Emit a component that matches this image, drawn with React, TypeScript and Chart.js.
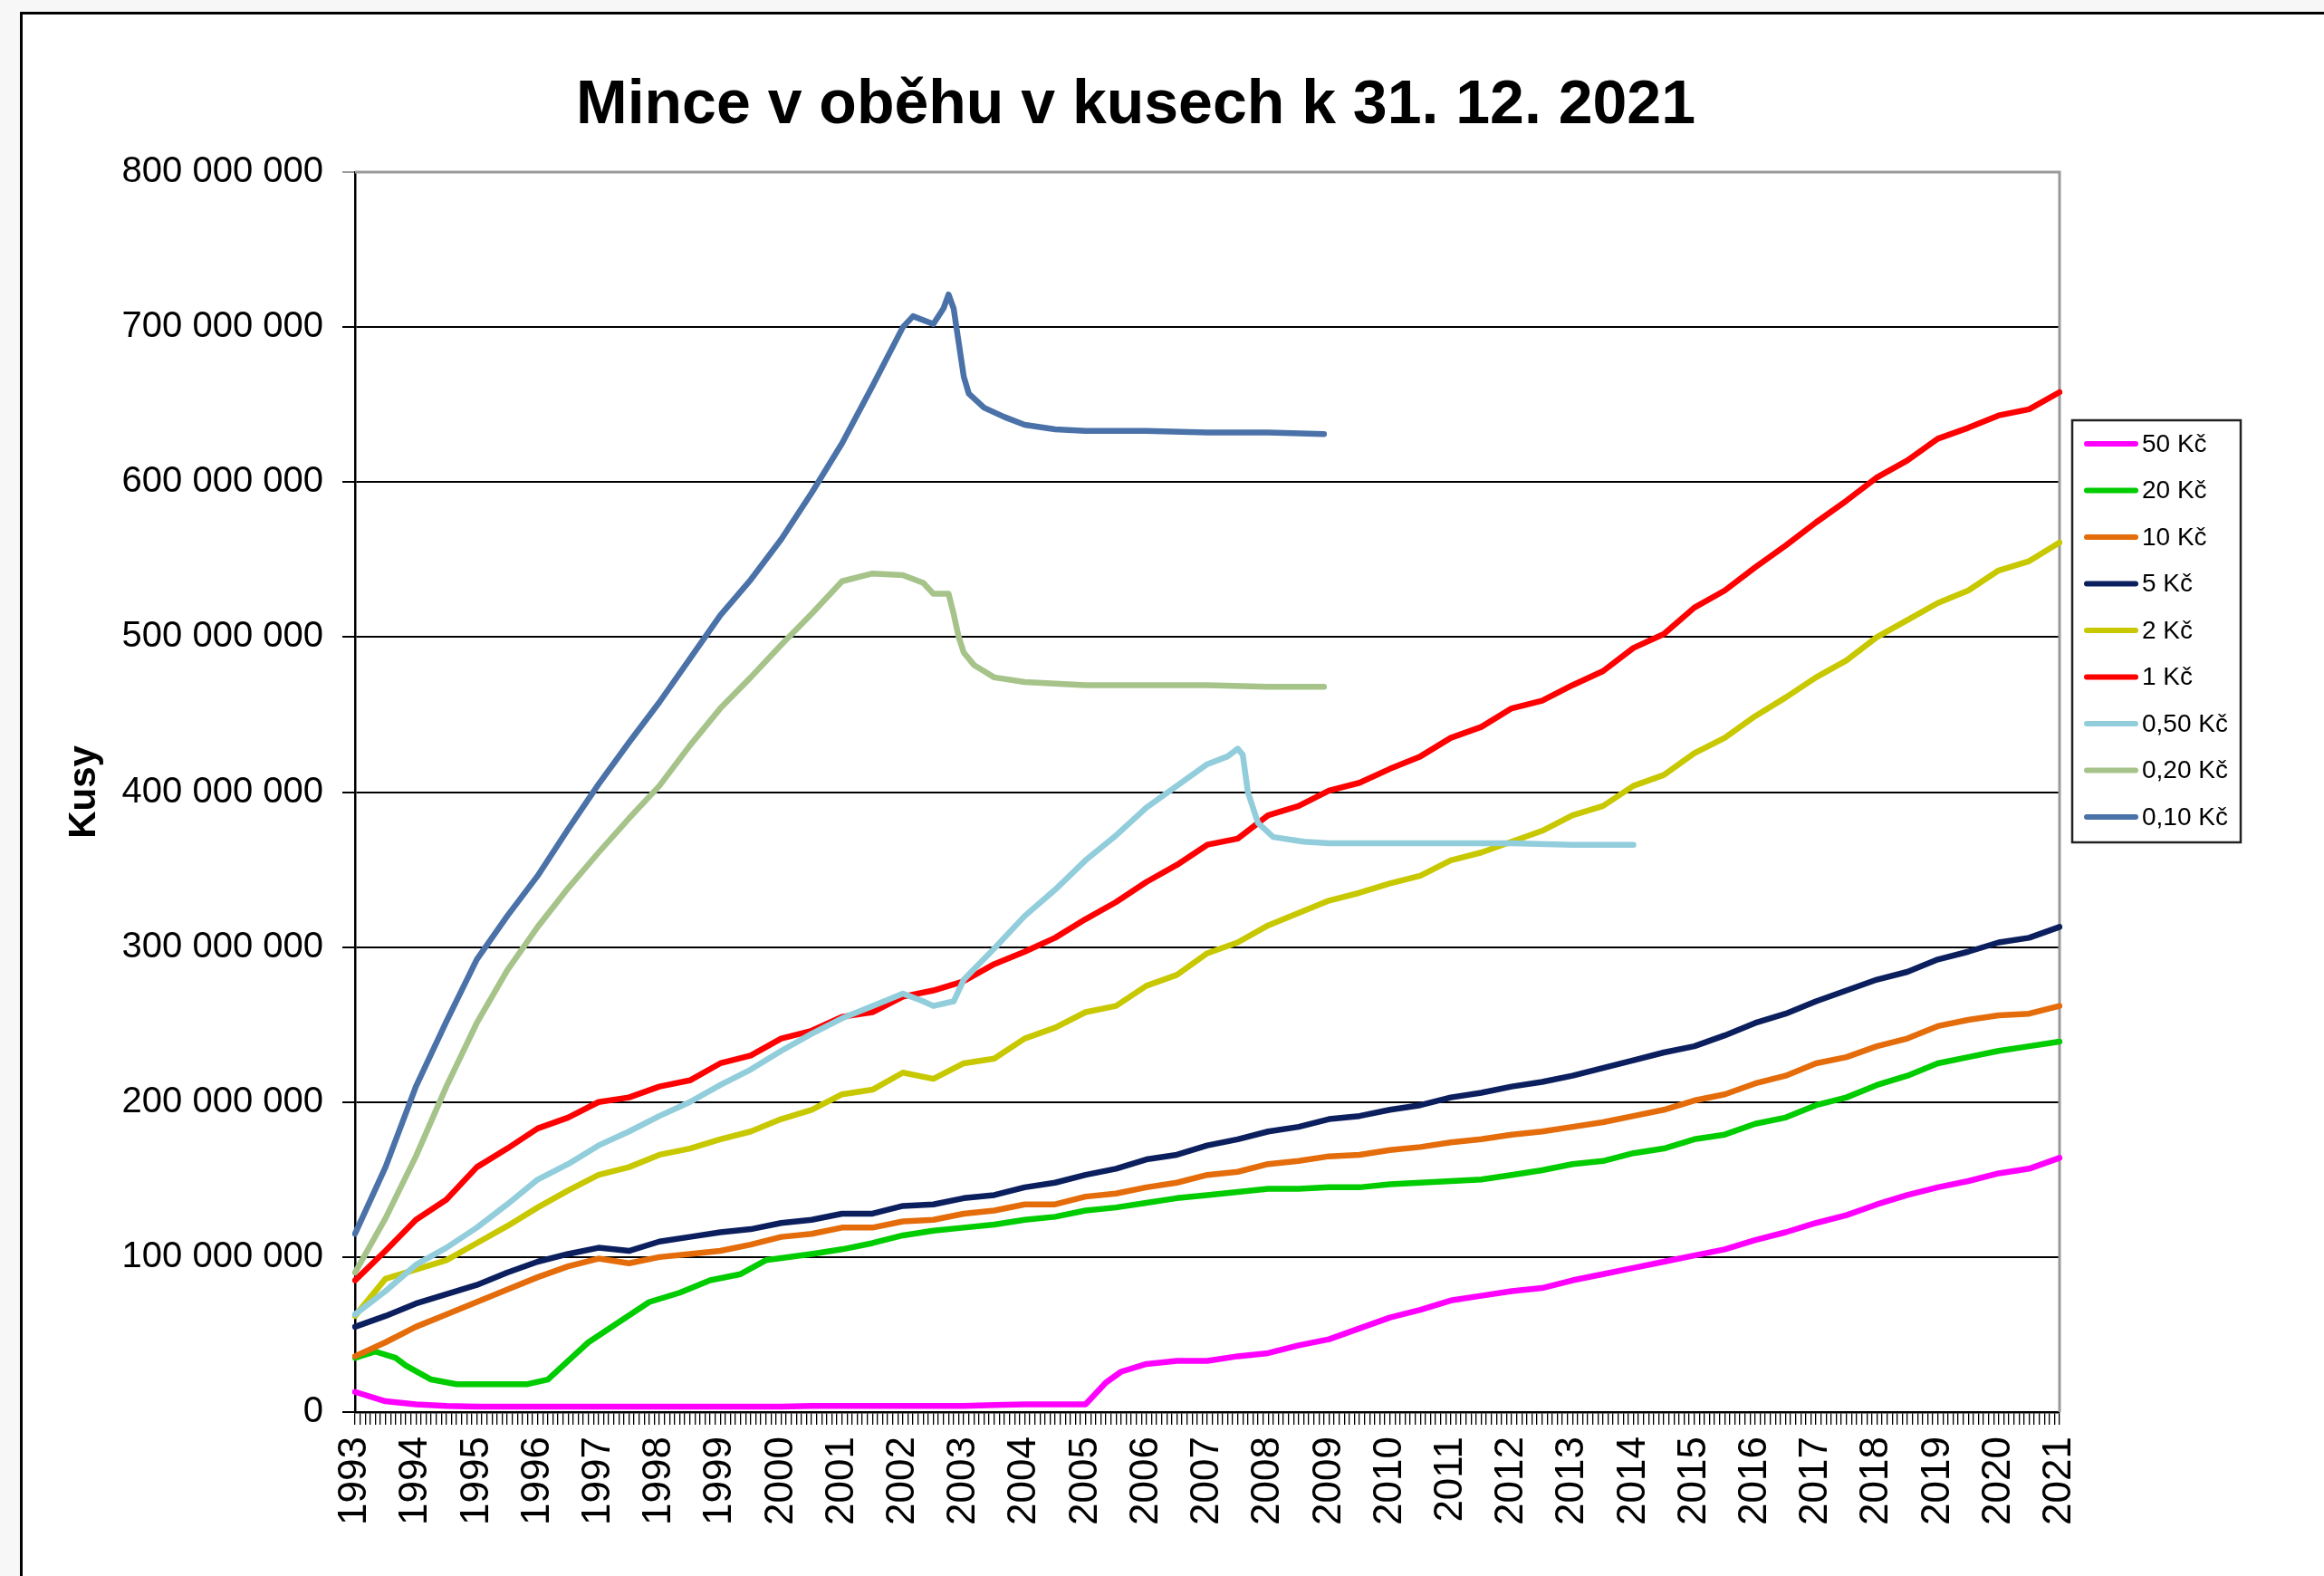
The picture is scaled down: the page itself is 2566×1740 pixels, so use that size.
import { useEffect, useRef } from 'react';
import { Chart, registerables } from 'chart.js';

Chart.register(...registerables);

const TITLE = 'Mince v oběhu v kusech k 31. 12. 2021';
const Y_TITLE = 'Kusy';

// tick labels of the category axis (one per year end)
const years = ['1993', '1994', '1995', '1996', '1997', '1998', '1999', '2000', '2001', '2002', '2003', '2004', '2005', '2006', '2007', '2008', '2009', '2010', '2011', '2012', '2013', '2014', '2015', '2016', '2017', '2018', '2019', '2020', '2021'];

// monthly categories: 12/1993, 1/1994 ... 12/2021 (year label at each December)
const categories: string[] = [];
years.forEach((y, i) => {
  if (i === 0) { categories.push('12/' + y); return; }
  for (let m = 1; m <= 12; m++) categories.push(m + '/' + y);
});

// series names & colours (legend order)
const seriesNames = ['50 Kč', '20 Kč', '10 Kč', '5 Kč', '2 Kč', '1 Kč', '0,50 Kč', '0,20 Kč', '0,10 Kč'];
const seriesColors = ['#FF00FF', '#00CC00', '#E46C0A', '#0B1F5E', '#C8C800', '#FF0000', '#92CDDC', '#A6C38A', '#4A72A8'];

// month indexes into categories where values were read (every half year)
const halfYear = [0, 6, 12, 18, 24, 30, 36, 42, 48, 54, 60, 66, 72, 78, 84, 90, 96, 102, 108, 114, 120, 126, 132, 138, 144, 150, 156, 162, 168, 174, 180, 186, 192, 198, 204, 210, 216, 222, 228, 234, 240, 246, 252, 258, 264, 270, 276, 282, 288, 294, 300, 306, 312, 318, 324, 330, 336];

// values in millions of pieces
const idx50 = [0, 6, 12, 18, 24, 30, 36, 42, 48, 54, 60, 66, 72, 78, 84, 90, 96, 102, 108, 114, 120, 126, 132, 138, 144, 146, 148, 151, 156, 162, 168, 174, 180, 186, 192, 198, 204, 210, 216, 222, 228, 234, 240, 246, 252, 258, 264, 270, 276, 282, 288, 294, 300, 306, 312, 318, 324, 330, 336];
const val50 = [13, 7, 5, 4, 3.5, 3.5, 3.5, 3.5, 3.5, 3.5, 3.5, 3.5, 3.5, 3.5, 3.5, 4, 4, 4, 4, 4, 4, 4.5, 5, 5, 5, 12, 19, 26, 31, 33, 33, 36, 38, 43, 47, 54, 61, 66, 72, 75, 78, 80, 85, 89, 93, 97, 101, 105, 111, 116, 122, 127, 134, 140, 145, 149, 154, 157, 164];

const idx20 = [0, 4, 8, 10, 15, 20, 34, 38, 40, 43, 46, 52, 58, 64, 70, 76, 81, 90, 96, 102, 108, 114, 120, 126, 132, 138, 144, 150, 156, 162, 168, 174, 180, 186, 192, 198, 204, 210, 216, 222, 228, 234, 240, 246, 252, 258, 264, 270, 276, 282, 288, 294, 300, 306, 312, 318, 324, 330, 336];
const val20 = [35, 39, 35, 30, 21, 18, 18, 21, 27, 36, 45, 58, 71, 77, 85, 89, 98, 102, 105, 109, 114, 117, 119, 121, 124, 126, 130, 132, 135, 138, 140, 142, 144, 144, 145, 145, 147, 148, 149, 150, 153, 156, 160, 162, 167, 170, 176, 179, 186, 190, 198, 203, 211, 217, 225, 229, 233, 236, 239];

const val10 = [36, 45, 55, 63, 71, 79, 87, 94, 99, 96, 100, 102, 104, 108, 113, 115, 119, 119, 123, 124, 128, 130, 134, 134, 139, 141, 145, 148, 153, 155, 160, 162, 165, 166, 169, 171, 174, 176, 179, 181, 184, 187, 191, 195, 201, 205, 212, 217, 225, 229, 236, 241, 249, 253, 256, 257, 262];

const val5 = [55, 62, 70, 76, 82, 90, 97, 102, 106, 104, 110, 113, 116, 118, 122, 124, 128, 128, 133, 134, 138, 140, 145, 148, 153, 157, 163, 166, 172, 176, 181, 184, 189, 191, 195, 198, 203, 206, 210, 213, 217, 222, 227, 232, 236, 243, 251, 257, 265, 272, 279, 284, 292, 297, 303, 306, 313];

const val2 = [62, 86, 92, 98, 109, 120, 132, 143, 153, 158, 166, 170, 176, 181, 189, 195, 205, 208, 219, 215, 225, 228, 241, 248, 258, 262, 275, 282, 296, 303, 314, 322, 330, 335, 341, 346, 356, 361, 368, 375, 385, 391, 404, 411, 425, 435, 449, 461, 474, 485, 500, 511, 522, 530, 543, 549, 561];

const val1 = [85, 104, 124, 137, 158, 170, 183, 190, 200, 203, 210, 214, 225, 230, 241, 246, 255, 258, 268, 272, 278, 289, 297, 306, 318, 329, 342, 353, 366, 370, 385, 391, 401, 406, 415, 423, 435, 442, 454, 459, 469, 478, 493, 502, 519, 530, 545, 559, 574, 588, 603, 614, 628, 635, 643, 647, 658];

const idx050 = [0, 6, 12, 18, 24, 30, 36, 42, 48, 54, 60, 66, 72, 78, 84, 90, 96, 102, 108, 112, 114, 118, 120, 126, 132, 138, 144, 150, 156, 162, 168, 172, 174, 175, 176, 178, 181, 187, 192, 204, 216, 228, 240, 252];
const val050 = [63, 78, 95, 106, 119, 134, 150, 160, 172, 181, 191, 200, 211, 221, 233, 244, 254, 262, 270, 265, 262, 265, 279, 299, 320, 337, 356, 372, 390, 404, 418, 423, 428, 424, 400, 380, 371, 368, 367, 367, 367, 367, 366, 366];

const idx020 = [0, 6, 12, 18, 24, 30, 36, 42, 48, 54, 60, 66, 72, 78, 84, 90, 96, 102, 108, 112, 114, 117, 118, 119, 120, 122, 124, 126, 132, 138, 144, 156, 168, 180, 191];
const val020 = [90, 125, 165, 210, 251, 285, 313, 338, 361, 383, 404, 430, 454, 474, 495, 515, 536, 541, 540, 535, 528, 528, 515, 500, 490, 482, 478, 474, 471, 470, 469, 469, 469, 468, 468];

const idx010 = [0, 6, 12, 18, 24, 30, 36, 42, 48, 54, 60, 66, 72, 78, 84, 90, 96, 102, 108, 110, 114, 116, 117, 118, 119, 120, 121, 124, 128, 132, 138, 144, 156, 168, 180, 191];
const val010 = [115, 158, 210, 252, 292, 320, 346, 376, 405, 432, 458, 486, 514, 537, 563, 593, 625, 662, 700, 707, 702, 712, 721, 712, 690, 668, 657, 648, 642, 637, 634, 633, 633, 632, 632, 631];

const seriesIdx = [idx50, idx20, halfYear, halfYear, halfYear, halfYear, idx050, idx020, idx010];
const seriesVals = [val50, val20, val10, val5, val2, val1, val050, val020, val010];

// y axis (millions)
const yMin = 0;
const yMax = 800;
const yStep = 100;

const FONT = '"Liberation Sans", Arial, Helvetica, sans-serif';

const titlePlugin = {
  id: 'excelTitle',
  afterDraw(chart: any) {
    const ctx = chart.ctx;
    ctx.save();
    ctx.font = 'bold 68px ' + FONT;
    ctx.fillStyle = '#000';
    ctx.textAlign = 'center';
    ctx.textBaseline = 'alphabetic';
    ctx.fillText(TITLE, 1254, 136);
    ctx.restore();
  },
};

const plotBorderPlugin = {
  id: 'plotBorder',
  beforeDatasetsDraw(chart: any) {
    const { ctx, chartArea } = chart;
    ctx.save();
    ctx.strokeStyle = '#9a9a9a';
    ctx.lineWidth = 3;
    ctx.beginPath();
    ctx.moveTo(chartArea.left, chartArea.top);
    ctx.lineTo(chartArea.right, chartArea.top);
    ctx.lineTo(chartArea.right, chartArea.bottom);
    ctx.stroke();
    ctx.restore();
  },
};

const legendPlugin = {
  id: 'boxLegend',
  afterDraw(chart: any) {
    const ctx = chart.ctx;
    const left = 2288, top = 464, right = 2474, bottom = 930;
    ctx.save();
    ctx.fillStyle = '#fff';
    ctx.fillRect(left, top, right - left, bottom - top);
    ctx.strokeStyle = '#222';
    ctx.lineWidth = 2.5;
    ctx.strokeRect(left, top, right - left, bottom - top);
    chart.data.datasets.forEach((ds: any, i: number) => {
      const y = 490 + i * 51.5;
      ctx.strokeStyle = ds.borderColor;
      ctx.lineWidth = 6;
      ctx.lineCap = 'round';
      ctx.beginPath();
      ctx.moveTo(2304, y);
      ctx.lineTo(2358, y);
      ctx.stroke();
      ctx.fillStyle = '#000';
      ctx.font = '28px ' + FONT;
      ctx.textAlign = 'left';
      ctx.textBaseline = 'middle';
      ctx.fillText(ds.label, 2365, y + 1);
    });
    ctx.restore();
  },
};

export default function App() {
  const canvasRef = useRef<HTMLCanvasElement | null>(null);

  useEffect(() => {
    if (!canvasRef.current) return;
    const datasets = seriesNames.map((name, i) => ({
      label: name,
      data: seriesIdx[i].map((m, k) => ({ x: categories[m], y: seriesVals[i][k] })),
      borderColor: seriesColors[i],
      backgroundColor: seriesColors[i],
      borderWidth: 6.5,
      pointRadius: 0,
      tension: 0,
      borderJoinStyle: 'round' as const,
      borderCapStyle: 'round' as const,
      order: seriesNames.length - 1 - i,
    }));

    const chart = new Chart(canvasRef.current, {
      type: 'line',
      data: { labels: categories, datasets },
      plugins: [plotBorderPlugin, titlePlugin, legendPlugin],
      options: {
        animation: false,
        responsive: false,
        devicePixelRatio: 1,
        layout: { padding: { left: 0, top: 190, right: 292, bottom: 0 } },
        plugins: {
          legend: { display: false },
          title: { display: false },
          tooltip: { enabled: false },
        },
        scales: {
          x: {
            type: 'category',
            offset: false,
            afterFit: (scale: any) => { scale.height = 181; },
            grid: {
              display: true,
              drawOnChartArea: false,
              drawTicks: true,
              tickLength: 14,
              color: '#000',
              lineWidth: 1.3,
              offset: false,
            },
            border: { display: true, color: '#000', width: 2.5 },
            ticks: {
              autoSkip: false,
              maxRotation: 90,
              minRotation: 90,
              padding: 13,
              color: '#000',
              font: { family: FONT, size: 44 },
              callback: (_v: any, index: number) => (index % 12 === 0 ? years[index / 12] : ''),
            },
          },
          y: {
            type: 'linear',
            min: yMin,
            max: yMax,
            afterFit: (scale: any) => { scale.width = 392; },
            grid: {
              color: (c: any) => (c.tick && c.tick.value === yMax ? '#9a9a9a' : '#000'),
              lineWidth: 2,
              tickLength: 14,
              drawTicks: true,
            },
            border: { display: true, color: '#000', width: 2.5 },
            ticks: {
              stepSize: yStep,
              padding: 21,
              color: '#000',
              font: { family: FONT, size: 40 },
              callback: (v: any) => (Number(v) === 0 ? '0' : v + ' 000 000'),
            },
            title: {
              display: true,
              text: Y_TITLE,
              color: '#000',
              font: { family: FONT, size: 42, weight: 'bold' },
              padding: { top: 68, bottom: 0 },
            },
          },
        },
      },
    } as any);
    return () => chart.destroy();
  }, []);

  return (
    <div style={{ position: 'fixed', left: 0, top: 0, width: 2566, height: 1740, background: '#f7f7f7', overflow: 'hidden' }}>
      <div
        style={{
          position: 'absolute',
          left: 22,
          top: 13,
          width: 2566 - 22,
          height: 1740 - 13,
          background: '#fff',
          borderLeft: '3px solid #000',
          borderTop: '3px solid #000',
          boxSizing: 'border-box',
        }}
      />
      <canvas
        ref={canvasRef}
        width={2566}
        height={1740}
        style={{ position: 'absolute', left: 0, top: 0, width: 2566, height: 1740 }}
      />
    </div>
  );
}
